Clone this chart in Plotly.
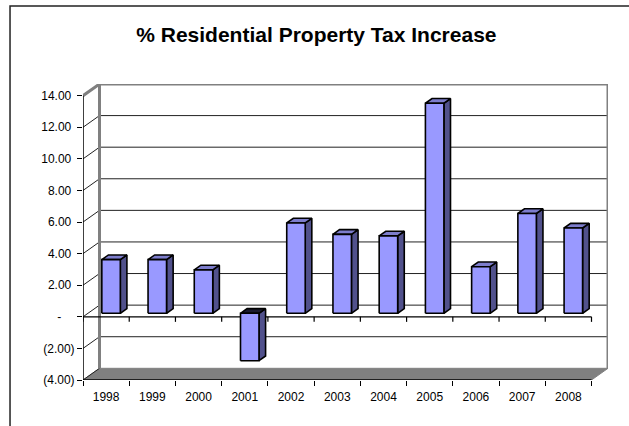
import plotly.graph_objects as go

years = ["1998", "1999", "2000", "2001", "2002", "2003", "2004", "2005", "2006", "2007", "2008"]
values = [3.40, 3.40, 2.75, -3.00, 5.72, 5.00, 4.90, 13.30, 2.95, 6.32, 5.40]
y_ticks = [-4, -2, 0, 2, 4, 6, 8, 10, 12, 14]
y_tick_text = ["(4.00)", "(2.00)", "-\u00a0\u00a0\u00a0\u00a0", "2.00\u00a0", "4.00\u00a0", "6.00\u00a0",
               "8.00\u00a0", "10.00\u00a0", "12.00\u00a0", "14.00\u00a0"]
title_text = "% Residential Property Tax Increase"

# pseudo-3D projection parameters (data units)
DX, DY = 0.357, 0.74
D1, D2 = 0.30, 0.70
HW = 0.20
YMIN, YMAX = -4, 14
n = len(years)
xl, xr = -0.5, n - 0.5

FRONT = "#9999FF"
SIDE = "#51518C"
TOP = "#7D7DCC"
TOP_NEG = "#1A1A2E"
GRAY = "#808080"

fig = go.Figure()

def poly_trace(polys, fill, line_color="black", width=1.6):
    xs, ys = [], []
    for p in polys:
        for (a, b) in p:
            xs.append(a); ys.append(b)
        xs.append(p[0][0]); ys.append(p[0][1])
        xs.append(None); ys.append(None)
    fig.add_trace(go.Scatter(x=xs, y=ys, mode="lines", fill="toself", fillcolor=fill,
                             line=dict(color=line_color, width=width), hoverinfo="skip",
                             showlegend=False))

def line_trace(segs, color, width):
    xs, ys = [], []
    for s in segs:
        for (a, b) in s:
            xs.append(a); ys.append(b)
        xs.append(None); ys.append(None)
    fig.add_trace(go.Scatter(x=xs, y=ys, mode="lines", line=dict(color=color, width=width),
                             hoverinfo="skip", showlegend=False))

# floor
poly_trace([[(xl, YMIN), (xr, YMIN), (xr + DX, YMIN + DY), (xl + DX, YMIN + DY)]], GRAY, GRAY, 1)

# back wall gridlines
line_trace([[(xl + DX, v + DY), (xr + DX, v + DY)] for v in y_ticks[1:-1]], "#222", 1)
# side wall diagonals
line_trace([[(xl, v), (xl + DX, v + DY)] for v in y_ticks[:-1]], "#222", 1)
# back wall border
line_trace([[(xl, YMAX), (xl + DX, YMAX + DY), (xr + DX, YMAX + DY), (xr + DX, YMIN + DY)],
            [(xl + DX, YMIN + DY), (xl + DX, YMAX + DY)]], GRAY, 3)

# front zero line with ticks
zero_segs = [[(xl, 0), (xr, 0)]]
for k in range(n + 1):
    zero_segs.append([(xl + k, 0), (xl + k, -0.32)])
line_trace(zero_segs, "black", 1.2)

# floor front edge
line_trace([[(xl, YMIN), (xr, YMIN)]], "black", 1.5)

# bars
fronts, sides, tops, tops_neg = [], [], [], []
for i, v in enumerate(values):
    c = i
    x1 = c - HW + D1 * DX
    x2 = c + HW + D1 * DX
    b1 = D1 * DY
    b2 = D2 * DY
    lo, hi = min(0, v), max(0, v)
    fronts.append([(x1, lo + b1), (x2, lo + b1), (x2, hi + b1), (x1, hi + b1)])
    sides.append([(x2, lo + b1), (x2 + (D2 - D1) * DX, lo + b2),
                  (x2 + (D2 - D1) * DX, hi + b2), (x2, hi + b1)])
    top = [(x1, hi + b1), (x2, hi + b1), (x2 + (D2 - D1) * DX, hi + b2),
           (x1 + (D2 - D1) * DX, hi + b2)]
    (tops_neg if v < 0 else tops).append(top)
poly_trace(sides, SIDE)
poly_trace(tops, TOP)
if tops_neg:
    poly_trace(tops_neg, TOP_NEG)
poly_trace(fronts, FRONT)

# front vertical axis line
line_trace([[(xl, YMIN), (xl, YMAX)]], "black", 1.5)

fig.update_layout(
    width=629, height=426,
    margin=dict(l=83, r=21, t=84, b=46),
    paper_bgcolor="white", plot_bgcolor="white",
    font=dict(family="Liberation Sans, Arial, sans-serif", size=12, color="black"),
    title=dict(text="<b>" + title_text + "</b>", x=0.503, xanchor="center", y=0.918, yanchor="middle",
               font=dict(size=21, color="black")),
    xaxis=dict(range=[xl, xr + DX], showgrid=False, zeroline=False, showline=False,
               tickvals=list(range(n)), ticktext=years, ticks="", ticklen=0,
               ticklabelstandoff=8,
               minor=dict(tickvals=[xl + k for k in range(n + 1)], ticks="outside", ticklen=5,
                          tickcolor="black", tickwidth=1),
               fixedrange=True),
    yaxis=dict(range=[YMIN, YMAX + DY], showgrid=False, zeroline=False, showline=False,
               tickvals=y_ticks, ticktext=y_tick_text, ticks="outside", ticklen=5,
               tickcolor="black", tickwidth=1, fixedrange=True),
    shapes=[dict(type="rect", xref="paper", yref="paper", x0=-0.139, x1=2, y0=-1, y1=1.2635,
                 line=dict(color="#222", width=1.5), fillcolor="rgba(0,0,0,0)", layer="below")],
)

fig.write_html("out.html")
